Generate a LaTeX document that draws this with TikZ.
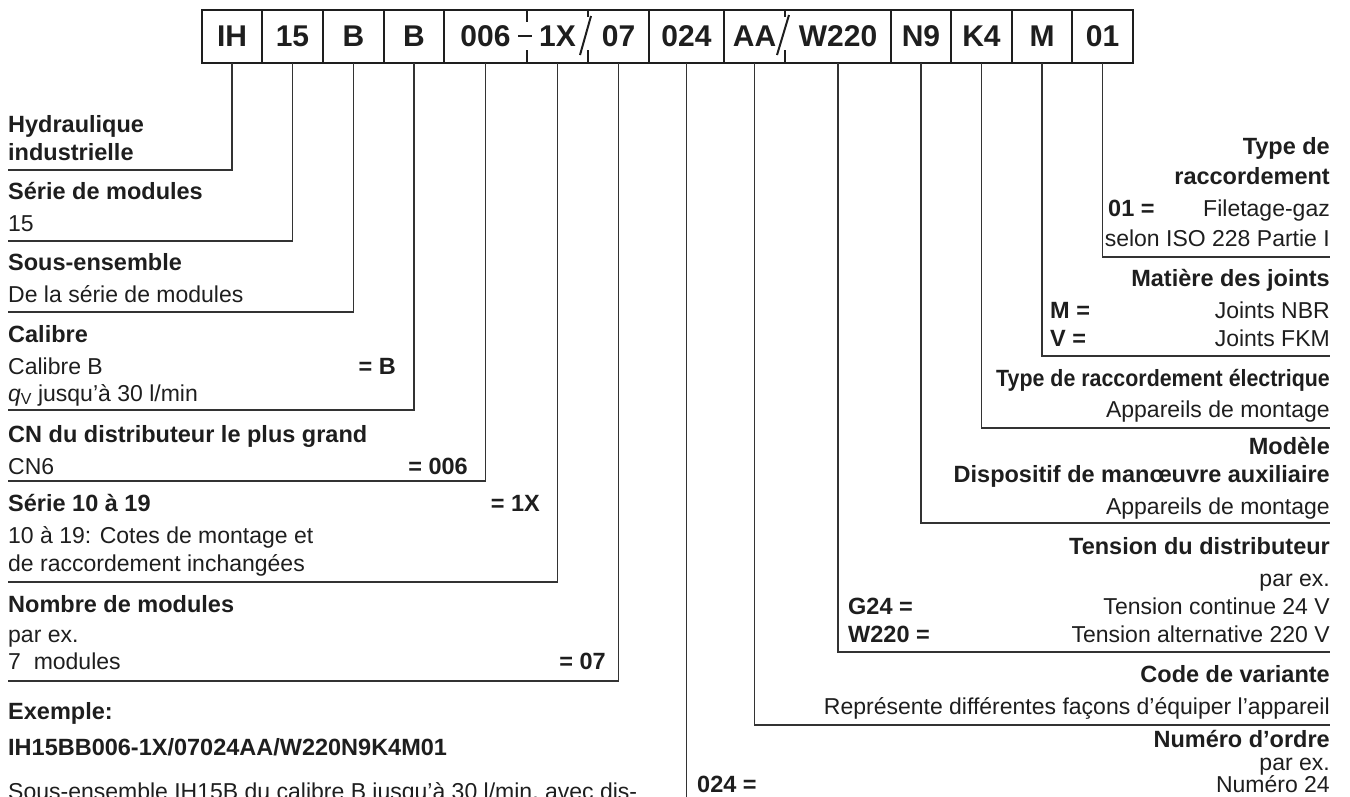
\documentclass[tikz,border=0pt]{standalone}
\usepackage{fontspec}
\setmainfont{Liberation Sans}
\definecolor{ink}{HTML}{1E1E1E}
\definecolor{wire}{HTML}{333333}
\begin{document}
\begin{tikzpicture}[x=1pt,y=-1pt,
  txt/.style={font=\fontsize{23}{28}\selectfont, inner sep=0pt, text=ink},
  lt/.style={txt, anchor=base west},
  rt/.style={txt, anchor=base east},
  ltb/.style={lt, font=\fontsize{23.5}{28}\selectfont\bfseries},
  rtb/.style={rt, font=\fontsize{23.5}{28}\selectfont\bfseries},
  cell/.style={font=\fontsize{30}{32}\selectfont\bfseries, inner sep=0pt, minimum height=53pt, text=ink},
  frame/.style={draw=ink, line width=2pt},
  conn/.style={draw=wire, line width=1.3pt},
]
\useasboundingbox (0,0) rectangle (1350,796);
\clip (0,0) rectangle (1350,796);

% ---- code box ----
\node[cell] (cIH)   at (232,36.5)   {IH};
\node[cell] (c15)   at (292.5,36.5) {15};
\node[cell] (cB1)   at (353.5,36.5) {B};
\node[cell] (cB2)   at (414,36.5)   {B};
\node[cell] (c006)  at (485.5,36.5) {006};
\node[cell] (c1X)   at (557.5,36.5) {1X};
\node[cell] (c07)   at (618.5,36.5) {07};
\node[cell] (c024)  at (686.5,36.5) {024};
\node[cell] (cAA)   at (754.5,36.5) {AA};
\node[cell] (cW)    at (838,36.5)   {W220};
\node[cell] (cN9)   at (921,36.5)   {N9};
\node[cell] (cK4)   at (981.5,36.5) {K4};
\node[cell] (cM)    at (1042,36.5)  {M};
\node[cell] (c01)   at (1102.5,36.5){01};

\draw[frame] (202,10) rectangle (1133,63);
\foreach \xx in {262,323,384,444,649,724,891,951,1012,1072}
  \draw[frame] (\xx,10) -- (\xx,63);
% 006 - 1X
\draw[frame] (527,10) -- (527,22);
\draw[frame] (527,50) -- (527,63);
\draw[frame] (518,36) -- (532,36);
% 1X / 07
\draw[frame] (588,10) -- (588,17);
\draw[frame] (588,50) -- (588,63);
\draw[frame] (591,16) -- (580,55);
% AA / W220
\draw[frame] (785,10) -- (785,17);
\draw[frame] (785,50) -- (785,63);
\draw[frame] (789,15) -- (777,55);

% ---- connector ends ----
\coordinate (eIH)  at (8,170);
\coordinate (e15)  at (8,241);
\coordinate (eB1)  at (8,312);
\coordinate (eB2)  at (8,410);
\coordinate (e006) at (8,481);
\coordinate (e1X)  at (8,582);
\coordinate (e07)  at (8,681);
\coordinate (e024) at (686.5,800);
\coordinate (eAA)  at (1330,725);
\coordinate (eW)   at (1330,652);
\coordinate (eN9)  at (1330,523);
\coordinate (eK4)  at (1330,428);
\coordinate (eM)   at (1330,356);
\coordinate (e01)  at (1330,257);

\draw[conn] (cIH.south)  |- (eIH);
\draw[conn] (c15.south)  |- (e15);
\draw[conn] (cB1.south)  |- (eB1);
\draw[conn] (cB2.south)  |- (eB2);
\draw[conn] (c006.south) |- (e006);
\draw[conn] (c1X.south)  |- (e1X);
\draw[conn] (c07.south)  |- (e07);
\draw[conn] (c024.south) -- (e024);
\draw[conn] (cAA.south)  |- (eAA);
\draw[conn] (cW.south)   |- (eW);
\draw[conn] (cN9.south)  |- (eN9);
\draw[conn] (cK4.south)  |- (eK4);
\draw[conn] (cM.south)   |- (eM);
\draw[conn] (c01.south)  |- (e01);

% ---- left descriptions ----
\node[ltb] (l1a) at (8,132) {Hydraulique};
\node[ltb] (l1b) at (8,160) {industrielle};
\node[ltb] (l2a) at (8,199) {Série de modules};
\node[lt]  (l2b) at (8,231) {15};
\node[ltb] (l3a) at (8,270) {Sous-ensemble};
\node[lt]  (l3b) at (8,302) {De la série de modules};
\node[ltb] (l4a) at (8,342) {Calibre};
\node[lt]  (l4b) at (8,374) {Calibre B};
\node[rtb] (l4c) at (396,374) {= B};
\node[lt]  (l4d) at (8,401) {\textit{q}\raisebox{-0.3ex}{\fontsize{16}{16}\selectfont V} jusqu'à 30 l/min};
\node[ltb] (l5a) at (8,442) {CN du distributeur le plus grand};
\node[lt]  (l5b) at (8,474) {CN6};
\node[rtb] (l5c) at (468,474) {= 006};
\node[ltb] (l6a) at (8,511) {Série 10 à 19};
\node[rtb] (l6c) at (540,511) {= 1X};
\node[lt]  (l6b) at (8,543) {10 à 19: Cotes de montage et};
\node[lt]  (l6d) at (8,571) {de raccordement inchangées};
\node[ltb] (l7a) at (8,612) {Nombre de modules};
\node[lt]  (l7b) at (8,642) {par ex.};
\node[lt]  (l7c) at (8,669) {7\ \ modules};
\node[rtb] (l7d) at (606,669) {= 07};
\node[ltb] (x1) at (8,719) {Exemple:};
\node[ltb] (x2) at (8,755) {IH15BB006-1X/07024AA/W220N9K4M01};
\node[lt]  (x3) at (8,799) {Sous-ensemble IH15B du calibre B jusqu'à 30 l/min, avec dis-};

% ---- right descriptions ----
\node[rtb] (r1a) at (1330,154) {Type de};
\node[rtb] (r1b) at (1330,184) {raccordement};
\node[ltb] (r1c) at (1108,216) {01 =};
\node[rt]  (r1d) at (1330,216) {Filetage-gaz};
\node[rt]  (r1e) at (1330,246) {selon ISO 228 Partie I};
\node[rtb] (r2a) at (1330,286) {Matière des joints};
\node[ltb] (r2b) at (1050,318) {M =};
\node[rt]  (r2c) at (1330,318) {Joints NBR};
\node[ltb] (r2d) at (1050,346) {V =};
\node[rt]  (r2e) at (1330,346) {Joints FKM};
\node[rtb] (r3a) at (1330,386) {\scalebox{0.91}[1]{Type de raccordement électrique}};
\node[rt]  (r3b) at (1330,417) {Appareils de montage};
\node[rtb] (r4a) at (1330,454) {Modèle};
\node[rtb] (r4b) at (1330,482) {Dispositif de manœuvre auxiliaire};
\node[rt]  (r4c) at (1330,514) {Appareils de montage};
\node[rtb] (r5a) at (1330,554) {Tension du distributeur};
\node[rt]  (r5b) at (1330,586) {par ex.};
\node[ltb] (r5c) at (848,614) {G24 =};
\node[rt]  (r5d) at (1330,614) {Tension continue 24 V};
\node[ltb] (r5e) at (848,642) {W220 =};
\node[rt]  (r5f) at (1330,642) {Tension alternative 220 V};
\node[rtb] (r6a) at (1330,682) {Code de variante};
\node[rt]  (r6b) at (1330,714) {Représente différentes façons d'équiper l'appareil};
\node[rtb] (r7a) at (1330,747) {Numéro d'ordre};
\node[rt]  (r7b) at (1330,770) {par ex.};
\node[ltb] (r7c) at (697,792) {024 =};
\node[rt]  (r7d) at (1330,792) {Numéro 24};
\end{tikzpicture}
\end{document}
